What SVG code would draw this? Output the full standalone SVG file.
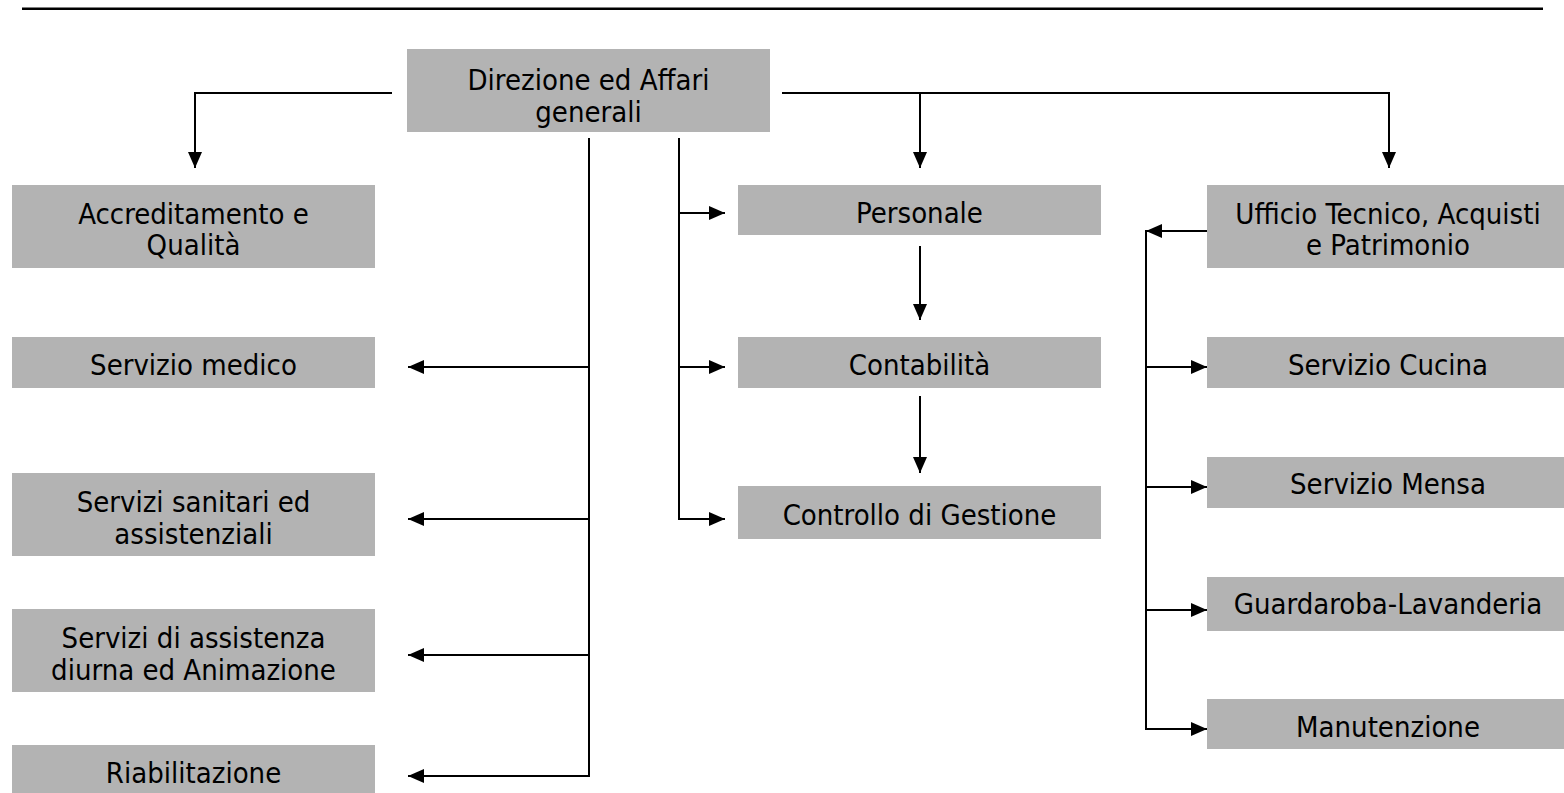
<svg xmlns="http://www.w3.org/2000/svg" width="1564" height="793" viewBox="0 0 1564 793">
<style>
.box{fill:#b3b3b3}
.t{font-family:"DejaVu Sans Condensed","DejaVu Sans",sans-serif;font-size:29px;fill:#000;text-anchor:middle}
.c{fill:none;stroke:#000;stroke-width:2}
</style>
<defs>
<marker id="ah" viewBox="0 0 16 14" refX="16" refY="7" markerWidth="16" markerHeight="14" markerUnits="userSpaceOnUse" orient="auto">
<path d="M0,0 L16,7 L0,14 Z" fill="#000"/>
</marker>
</defs>
<line x1="22" y1="8.7" x2="1543" y2="8.7" stroke="#000" stroke-width="2.6"/>
<g id="connectors">
<polyline class="c" points="392,93 195,93 195,168" marker-end="url(#ah)"/>
<polyline class="c" points="782,93 1389,93 1389,168" marker-end="url(#ah)"/>
<line class="c" x1="920" y1="93" x2="920" y2="168" marker-end="url(#ah)"/>
<line class="c" x1="589" y1="138" x2="589" y2="776"/>
<line class="c" x1="590" y1="367" x2="408" y2="367" marker-end="url(#ah)"/>
<line class="c" x1="590" y1="519" x2="408" y2="519" marker-end="url(#ah)"/>
<line class="c" x1="590" y1="655" x2="408" y2="655" marker-end="url(#ah)"/>
<line class="c" x1="590" y1="776" x2="408" y2="776" marker-end="url(#ah)"/>
<line class="c" x1="679" y1="138" x2="679" y2="519"/>
<line class="c" x1="678" y1="213" x2="725" y2="213" marker-end="url(#ah)"/>
<line class="c" x1="678" y1="367" x2="725" y2="367" marker-end="url(#ah)"/>
<line class="c" x1="678" y1="519" x2="725" y2="519" marker-end="url(#ah)"/>
<line class="c" x1="920" y1="246" x2="920" y2="320" marker-end="url(#ah)"/>
<line class="c" x1="920" y1="396" x2="920" y2="473" marker-end="url(#ah)"/>
<line class="c" x1="1210" y1="231" x2="1146" y2="231" marker-end="url(#ah)"/>
<line class="c" x1="1146" y1="230" x2="1146" y2="729"/>
<line class="c" x1="1145" y1="367" x2="1207" y2="367" marker-end="url(#ah)"/>
<line class="c" x1="1145" y1="487" x2="1207" y2="487" marker-end="url(#ah)"/>
<line class="c" x1="1145" y1="610" x2="1207" y2="610" marker-end="url(#ah)"/>
<line class="c" x1="1145" y1="729" x2="1207" y2="729" marker-end="url(#ah)"/>
</g>
<g id="direzione"><rect class="box" x="407" y="49" width="363" height="83"/><text class="t" x="588.5" y="90">Direzione ed Affari</text><text class="t" x="588.5" y="122">generali</text></g>
<g id="accreditamento"><rect class="box" x="12" y="185" width="363" height="83"/><text class="t" x="193.5" y="224">Accreditamento e</text><text class="t" x="193.5" y="255">Qualità</text></g>
<g id="servizio-medico"><rect class="box" x="12" y="337" width="363" height="51"/><text class="t" x="193.5" y="375">Servizio medico</text></g>
<g id="servizi-sanitari"><rect class="box" x="12" y="473" width="363" height="83"/><text class="t" x="193.5" y="512">Servizi sanitari ed</text><text class="t" x="193.5" y="544">assistenziali</text></g>
<g id="servizi-assistenza"><rect class="box" x="12" y="609" width="363" height="83"/><text class="t" x="193.5" y="648">Servizi di assistenza</text><text class="t" x="193.5" y="680">diurna ed Animazione</text></g>
<g id="riabilitazione"><rect class="box" x="12" y="745" width="363" height="51"/><text class="t" x="193.5" y="783">Riabilitazione</text></g>
<g id="personale"><rect class="box" x="738" y="185" width="363" height="50"/><text class="t" x="919.5" y="223">Personale</text></g>
<g id="contabilita"><rect class="box" x="738" y="337" width="363" height="51"/><text class="t" x="919.5" y="375">Contabilità</text></g>
<g id="controllo"><rect class="box" x="738" y="486" width="363" height="53"/><text class="t" x="919.5" y="525">Controllo di Gestione</text></g>
<g id="ufficio-tecnico"><rect class="box" x="1207" y="185" width="363" height="83"/><text class="t" x="1388" y="224">Ufficio Tecnico, Acquisti</text><text class="t" x="1388" y="255">e Patrimonio</text></g>
<g id="servizio-cucina"><rect class="box" x="1207" y="337" width="363" height="51"/><text class="t" x="1388" y="375">Servizio Cucina</text></g>
<g id="servizio-mensa"><rect class="box" x="1207" y="457" width="363" height="51"/><text class="t" x="1388" y="494">Servizio Mensa</text></g>
<g id="guardaroba"><rect class="box" x="1207" y="577" width="363" height="54"/><text class="t" x="1388" y="614">Guardaroba-Lavanderia</text></g>
<g id="manutenzione"><rect class="box" x="1207" y="699" width="363" height="50"/><text class="t" x="1388" y="737">Manutenzione</text></g>
</svg>
